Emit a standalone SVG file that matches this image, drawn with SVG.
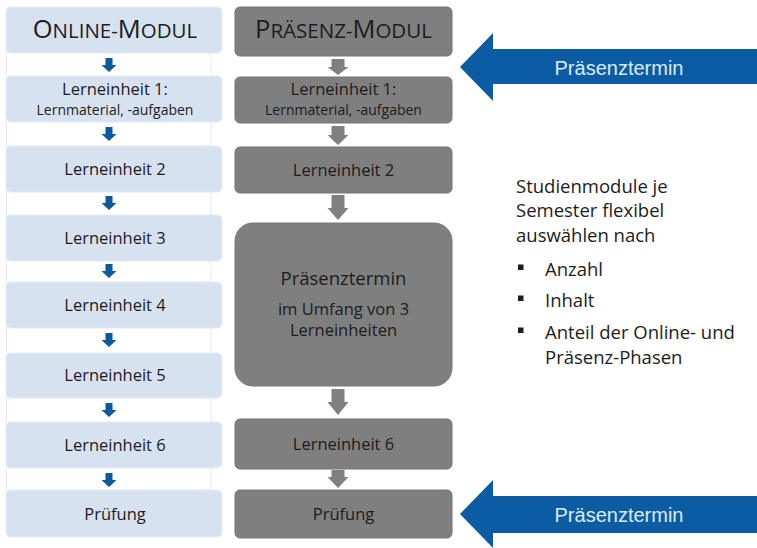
<svg xmlns="http://www.w3.org/2000/svg" width="757" height="548" viewBox="0 0 757 548">
<style>
.on{fill:#d7e2f1;stroke:#e4ebf5;stroke-width:1}
.pr{fill:#7f7f7f;stroke:#767676;stroke-width:1}
.t{font-family:"Open Sans","Noto Sans",sans-serif;fill:#1c1c1c;text-anchor:middle}
.m{font-size:16.5px}
.s{font-size:14px}
.h{font-size:25.5px}
.hs{font-size:20.5px}
.ba{fill:#0c5a9e}
.ga{fill:#808080}
.big{fill:#0b5ca3}
.bl{font-family:"Liberation Sans",Arial,sans-serif;font-size:20px;fill:#dcecfb;text-anchor:middle}
.r{font-family:"Open Sans","Noto Sans",sans-serif;font-size:18.5px;fill:#1c1c1c}
.bul{fill:#1c1c1c}
</style>
<rect x="0" y="0" width="757" height="548" fill="#ffffff"/>
<rect x="6.5" y="30" width="204.5" height="495" fill="#ffffff" stroke="#e2e8f1" stroke-width="1"/>
<g id="connectors">
<path class="ba" d="M105.5,58 h7 v7 h4 l-7.5,7 l-7.5,-7 h4 z"/>
<path class="ba" d="M105.5,127 h7 v7 h4 l-7.5,7 l-7.5,-7 h4 z"/>
<path class="ba" d="M105.5,196 h7 v7 h4 l-7.5,7 l-7.5,-7 h4 z"/>
<path class="ba" d="M105.5,264 h7 v7 h4 l-7.5,7 l-7.5,-7 h4 z"/>
<path class="ba" d="M105.5,333 h7 v7 h4 l-7.5,7 l-7.5,-7 h4 z"/>
<path class="ba" d="M105.5,403 h7 v7 h4 l-7.5,7 l-7.5,-7 h4 z"/>
<path class="ba" d="M105.5,473 h7 v7 h4 l-7.5,7 l-7.5,-7 h4 z"/>
<path class="ga" d="M331.5,59 h13 v8 h4 l-10.5,8 l-10.5,-8 h4 z"/>
<path class="ga" d="M331.5,126 h13 v9 h4 l-10.5,10 l-10.5,-10 h4 z"/>
<path class="ga" d="M331.5,195 h13 v13 h4 l-10.5,12 l-10.5,-12 h4 z"/>
<path class="ga" d="M331.5,389 h13 v13 h4 l-10.5,13 l-10.5,-13 h4 z"/>
<path class="ga" d="M331.5,470 h13 v7 h4 l-10.5,11 l-10.5,-11 h4 z"/>
</g>
<g id="online-title">
<rect class="on" x="6" y="7" width="216" height="46" rx="5"/>
<text class="t" x="115" y="38"><tspan class="h">O</tspan><tspan class="hs">NLINE-</tspan><tspan class="h">M</tspan><tspan class="hs">ODUL</tspan></text>
</g>
<g id="online-le1">
<rect class="on" x="6" y="76" width="216" height="46" rx="5"/>
<text class="t m" x="115" y="95">Lerneinheit 1:</text>
<text class="t s" x="115" y="115">Lernmaterial, -aufgaben</text>
</g>
<g id="online-le2">
<rect class="on" x="6" y="146" width="216" height="46" rx="5"/>
<text class="t m" x="115" y="175">Lerneinheit 2</text>
</g>
<g id="online-le3">
<rect class="on" x="6" y="215" width="216" height="46" rx="5"/>
<text class="t m" x="115" y="244">Lerneinheit 3</text>
</g>
<g id="online-le4">
<rect class="on" x="6" y="282" width="216" height="46" rx="5"/>
<text class="t m" x="115" y="311">Lerneinheit 4</text>
</g>
<g id="online-le5">
<rect class="on" x="6" y="353" width="216" height="45" rx="5"/>
<text class="t m" x="115" y="381">Lerneinheit 5</text>
</g>
<g id="online-le6">
<rect class="on" x="6" y="422" width="216" height="46" rx="5"/>
<text class="t m" x="115" y="451">Lerneinheit 6</text>
</g>
<g id="online-pruefung">
<rect class="on" x="6" y="490" width="216" height="47" rx="5"/>
<text class="t m" x="115" y="520">Prüfung</text>
</g>
<g id="praesenz-title">
<rect class="pr" x="235" y="7" width="217" height="49" rx="5"/>
<text class="t" x="343.5" y="38"><tspan class="h">P</tspan><tspan class="hs">RÄSENZ-</tspan><tspan class="h">M</tspan><tspan class="hs">ODUL</tspan></text>
</g>
<g id="praesenz-le1">
<rect class="pr" x="235" y="77" width="217" height="46" rx="5"/>
<text class="t m" x="343.5" y="95">Lerneinheit 1:</text>
<text class="t s" x="343.5" y="115">Lernmaterial, -aufgaben</text>
</g>
<g id="praesenz-le2">
<rect class="pr" x="235" y="147" width="217" height="46" rx="5"/>
<text class="t m" x="343.5" y="176">Lerneinheit 2</text>
</g>
<g id="praesenz-termin">
<rect class="pr" x="235" y="223" width="217" height="163" rx="18"/>
<text class="t" x="343.5" y="285" font-size="18.5">Präsenztermin</text>
<text class="t m" x="343.5" y="315">im Umfang von 3</text>
<text class="t m" x="343.5" y="336">Lerneinheiten</text>
</g>
<g id="praesenz-le6">
<rect class="pr" x="235" y="419" width="217" height="50" rx="5"/>
<text class="t m" x="343.5" y="450">Lerneinheit 6</text>
</g>
<g id="praesenz-pruefung">
<rect class="pr" x="235" y="490" width="217" height="48" rx="5"/>
<text class="t m" x="343.5" y="520">Prüfung</text>
</g>
<g id="arrow-top">
<path class="big" d="M460,67 L493,33 L493,49 L757,49 L757,84 L493,84 L493,101 Z"/>
<text class="bl" x="619" y="75">Präsenztermin</text>
</g>
<g id="arrow-bottom">
<path class="big" d="M460,514 L493,480 L493,496 L757,496 L757,533 L493,533 L493,548 Z"/>
<text class="bl" x="619" y="522">Präsenztermin</text>
</g>
<g id="notes">
<text class="r" x="516" y="193">Studienmodule je</text>
<text class="r" x="516" y="217">Semester flexibel</text>
<text class="r" x="516" y="242">auswählen nach</text>
<rect class="bul" x="518" y="264.5" width="5.5" height="5.5"/>
<text class="r" x="545" y="276">Anzahl</text>
<rect class="bul" x="518" y="295.5" width="5.5" height="5.5"/>
<text class="r" x="545" y="307">Inhalt</text>
<rect class="bul" x="518" y="327.5" width="5.5" height="5.5"/>
<text class="r" x="545" y="339">Anteil der Online- und</text>
<text class="r" x="545" y="364">Präsenz-Phasen</text>
</g>
</svg>
